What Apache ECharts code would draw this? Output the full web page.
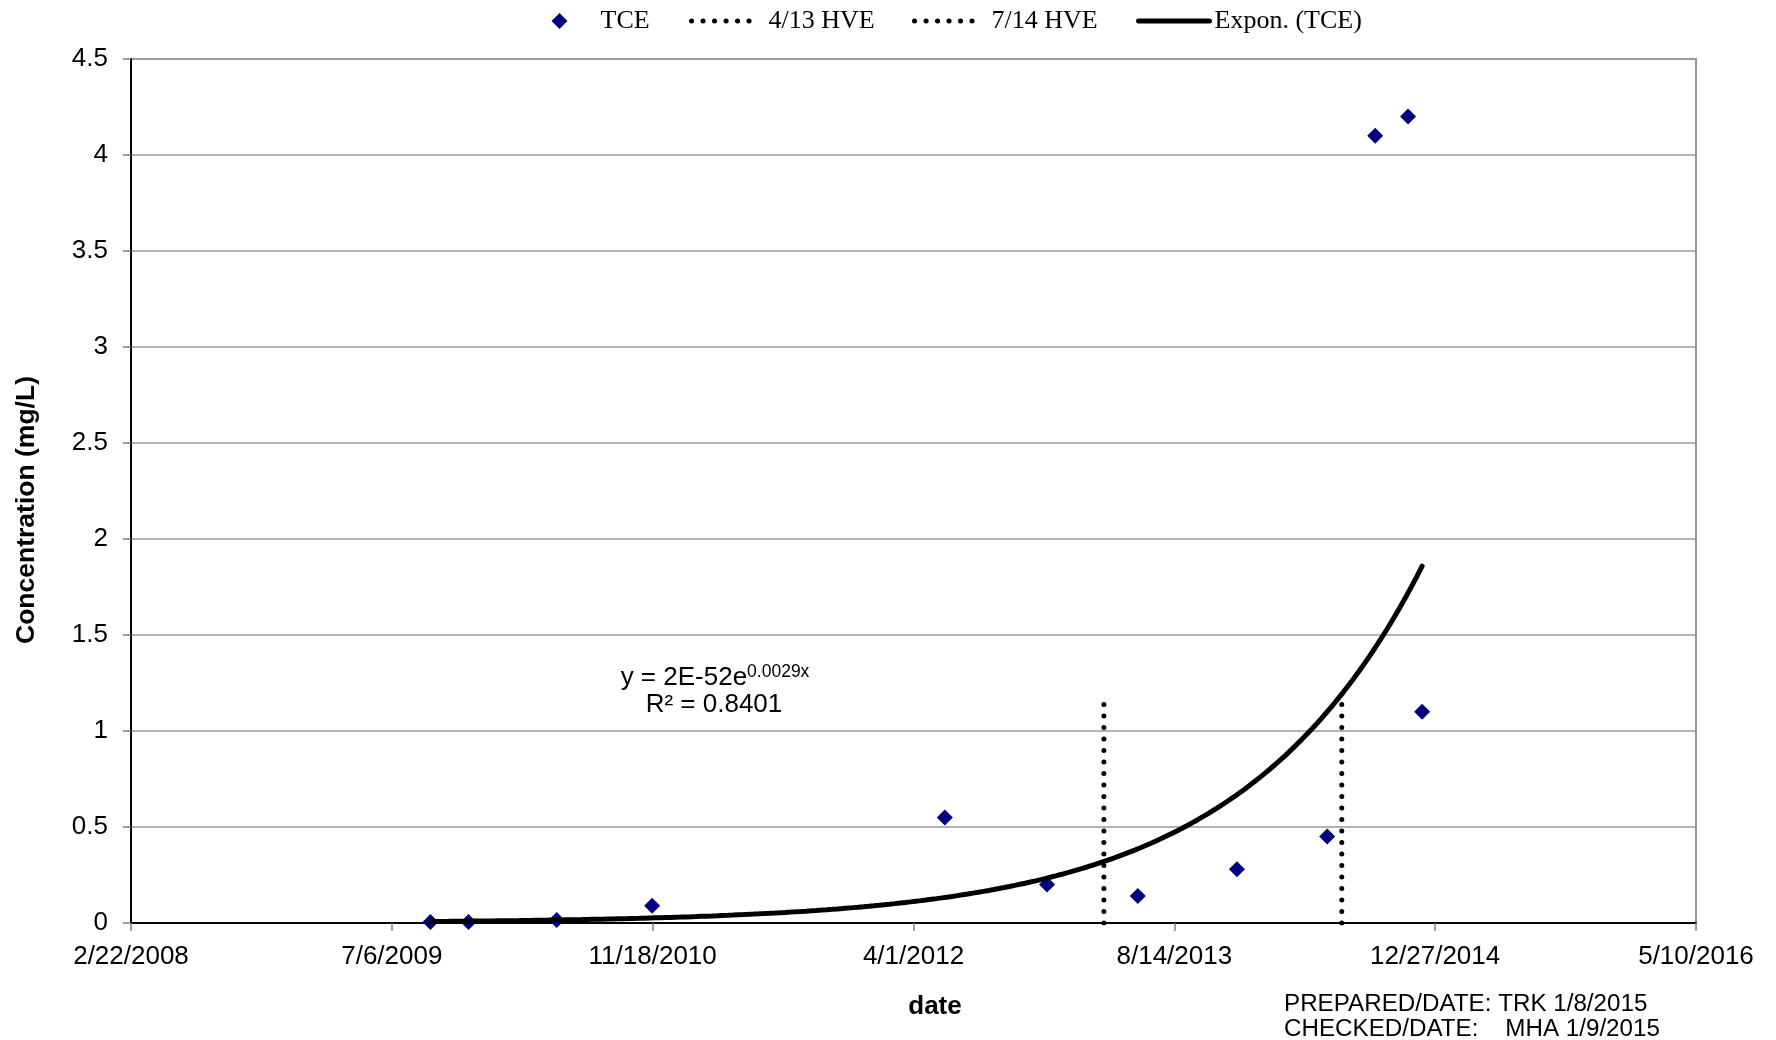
<!DOCTYPE html>
<html>
<head>
<meta charset="utf-8">
<script src="https://cdn.jsdelivr.net/npm/echarts@6/dist/echarts.min.js"></script>
<style>
  html, body { margin: 0; padding: 0; background: #ffffff; }
  #chart { width: 1776px; height: 1040px; }
</style>
</head>
<body>
<div id="chart"></div>
<script>
// TCE sampling dates and measured concentrations (mg/L)
const sampleDates = ['2009-09-18', '2009-11-30', '2010-05-18', '2010-11-17', '2012-05-31', '2012-12-13',
                     '2013-06-05', '2013-12-12', '2014-06-03', '2014-09-03', '2014-11-05', '2014-12-02'];
const tceValues = [0.005, 0.005, 0.015, 0.09, 0.55, 0.2, 0.14, 0.28, 0.45, 4.1, 4.2, 1.1];

// HVE event markers (vertical dotted lines)
const hveNames = ['4/13 HVE', '7/14 HVE'];
const hveDates = ['2013-04-01', '2014-07-01'];
const hveTop = [1.15, 1.15];

// Axis ranges: x in spreadsheet day serials, ticks every 500 days
const xRange = [39500, 42500];
const xStep = 500;
const yRange = [0, 4.5];
const yStep = 0.5;

// Annotation texts
const equationMain = 'y = 2E-52e';
const equationExp = '0.0029x';
const rSquaredText = 'R² = 0.8401';
const footerLines = ['PREPARED/DATE: TRK 1/8/2015', 'CHECKED/DATE:    MHA 1/9/2015'];
const yTitle = 'Concentration (mg/L)';
const xTitle = 'date';

const EPOCH = Date.UTC(1899, 11, 30);
function toSerial(s) {
  const [y, m, d] = s.split('-').map(Number);
  return Math.round((Date.UTC(y, m - 1, d) - EPOCH) / 86400000);
}
function serialLabel(v) {
  const dt = new Date(EPOCH + Math.round(v) * 86400000);
  return (dt.getUTCMonth() + 1) + '/' + dt.getUTCDate() + '/' + dt.getUTCFullYear();
}

const sampleX = sampleDates.map(toSerial);
const tcePoints = sampleX.map((x, i) => [x, tceValues[i]]);

// Exponential trend (least squares on ln y), drawn across the sampled date span
function expFit(xs, ys) {
  const n = xs.length;
  const ly = ys.map(Math.log);
  const mx = xs.reduce((a, b) => a + b, 0) / n;
  const my = ly.reduce((a, b) => a + b, 0) / n;
  let sxy = 0, sxx = 0;
  for (let i = 0; i < n; i++) { sxy += (xs[i] - mx) * (ly[i] - my); sxx += (xs[i] - mx) * (xs[i] - mx); }
  const b = sxy / sxx;
  return { b: b, a: my - b * mx };
}
const fit = expFit(sampleX, tceValues);
const xLo = Math.min(...sampleX), xHi = Math.max(...sampleX);
const trendPoints = [];
for (let x = xLo; x <= xHi; x += 10) trendPoints.push([x, Math.exp(fit.a + fit.b * x)]);
trendPoints.push([xHi, Math.exp(fit.a + fit.b * xHi)]);

const SANS = '"Liberation Sans", Arial, sans-serif';
const SERIF = '"Liberation Serif", "Times New Roman", serif';

const dottedStyle = { color: '#000000', width: 5, type: [0.1, 11.4], cap: 'round' };
const solidStyle = { color: '#000000', width: 5, type: 'solid', cap: 'round' };

const legendText = { fontFamily: SERIF, fontSize: 26, color: '#000000' };
function legendItem(name, left, itemWidth, padLeft, lineStyle) {
  const l = {
    orient: 'horizontal', top: 8, left: left, padding: 0,
    itemWidth: itemWidth, itemHeight: 15, selectedMode: false,
    data: [name],
    textStyle: Object.assign({}, legendText, { padding: [0, 0, 0, padLeft] }),
    itemStyle: { opacity: 0, borderWidth: 0 }
  };
  if (lineStyle) l.lineStyle = lineStyle;
  return l;
}

const chart = echarts.init(document.getElementById('chart'), null, { renderer: 'canvas' });

chart.setOption({
  animation: false,
  backgroundColor: '#ffffff',
  grid: {
    left: 131, right: 80, top: 59, bottom: 117,
    show: true, borderColor: '#969696', borderWidth: 2, backgroundColor: 'transparent',
    outerBoundsMode: 'none'
  },
  legend: [
    {
      orient: 'horizontal', top: 8, left: 551.5, padding: 0,
      itemWidth: 16, itemHeight: 16, selectedMode: false,
      data: [{ name: 'TCE', icon: 'diamond' }],
      textStyle: Object.assign({}, legendText, { padding: [0, 0, 0, 28] }),
      itemStyle: { color: '#000080', opacity: 1 }
    },
    legendItem(hveNames[0], 689, 63, 9, dottedStyle),
    legendItem(hveNames[1], 912, 63, 9, dottedStyle),
    legendItem('Expon. (TCE)', 1136, 71, 0, solidStyle)
  ],
  xAxis: {
    type: 'value', min: xRange[0], max: xRange[1], interval: xStep,
    axisLine: { show: true, onZero: true, lineStyle: { color: '#000000', width: 2 } },
    axisTick: { show: true, inside: false, length: 8, lineStyle: { color: '#808080', width: 1.5 } },
    splitLine: { show: false },
    axisLabel: {
      show: true, margin: 21, formatter: serialLabel, showMinLabel: true, showMaxLabel: true,
      fontFamily: SANS, fontSize: 26, color: '#000000'
    }
  },
  yAxis: {
    type: 'value', min: yRange[0], max: yRange[1], interval: yStep,
    axisLine: { show: true, lineStyle: { color: '#000000', width: 2 } },
    axisTick: { show: true, inside: false, length: 8, lineStyle: { color: '#808080', width: 1.5 } },
    splitLine: { show: true, lineStyle: { color: '#9a9a9a', width: 1.5 } },
    axisLabel: {
      show: true, margin: 23, showMinLabel: true, showMaxLabel: true,
      fontFamily: SANS, fontSize: 26, color: '#000000'
    }
  },
  series: [
    {
      name: 'TCE', type: 'scatter', data: tcePoints,
      symbol: 'diamond', symbolSize: 16,
      itemStyle: { color: '#000080', opacity: 1 }, z: 3, silent: true
    },
    {
      name: hveNames[0], type: 'line', showSymbol: false, symbol: 'none',
      data: [[toSerial(hveDates[0]), 0], [toSerial(hveDates[0]), hveTop[0]]],
      itemStyle: { color: '#000000' }, lineStyle: dottedStyle, z: 2, silent: true
    },
    {
      name: hveNames[1], type: 'line', showSymbol: false, symbol: 'none',
      data: [[toSerial(hveDates[1]), 0], [toSerial(hveDates[1]), hveTop[1]]],
      itemStyle: { color: '#000000' }, lineStyle: dottedStyle, z: 2, silent: true
    },
    {
      name: 'Expon. (TCE)', type: 'line', showSymbol: false, symbol: 'none', smooth: false,
      data: trendPoints,
      itemStyle: { color: '#000000' },
      lineStyle: solidStyle, z: 4, silent: true
    }
  ],
  graphic: [
    {
      type: 'text', x: 27, y: 510, rotation: Math.PI / 2, silent: true,
      style: { text: yTitle, fill: '#000000', font: 'bold 26.5px ' + SANS,
               align: 'center', verticalAlign: 'middle', textAlign: 'center', textVerticalAlign: 'middle' }
    },
    {
      type: 'text', x: 935, y: 1007, silent: true,
      style: { text: xTitle, fill: '#000000', font: 'bold 26px ' + SANS,
               align: 'center', verticalAlign: 'middle', textAlign: 'center', textVerticalAlign: 'middle' }
    },
    {
      type: 'text', x: 715, y: 678, silent: true,
      style: {
        text: '{m|' + equationMain + '}{s|' + equationExp + '}',
        align: 'center', verticalAlign: 'middle', textAlign: 'center', textVerticalAlign: 'middle',
        rich: {
          m: { fontFamily: SANS, fontSize: 26, fill: '#000000', color: '#000000', lineHeight: 29 },
          s: { fontFamily: SANS, fontSize: 17.5, fill: '#000000', color: '#000000', verticalAlign: 'top', lineHeight: 18 }
        }
      }
    },
    {
      type: 'text', x: 714, y: 705, silent: true,
      style: { text: rSquaredText, fill: '#000000', font: '26px ' + SANS,
               align: 'center', verticalAlign: 'middle', textAlign: 'center', textVerticalAlign: 'middle' }
    },
    {
      type: 'text', x: 1284, y: 1004.5, silent: true,
      style: { text: footerLines[0], fill: '#000000', font: '24.2px ' + SANS,
               align: 'left', verticalAlign: 'middle', textAlign: 'left', textVerticalAlign: 'middle' }
    },
    {
      type: 'text', x: 1284, y: 1029.5, silent: true,
      style: { text: footerLines[1], fill: '#000000', font: '24.2px ' + SANS,
               align: 'left', verticalAlign: 'middle', textAlign: 'left', textVerticalAlign: 'middle' }
    }
  ]
});
</script>
</body>
</html>
